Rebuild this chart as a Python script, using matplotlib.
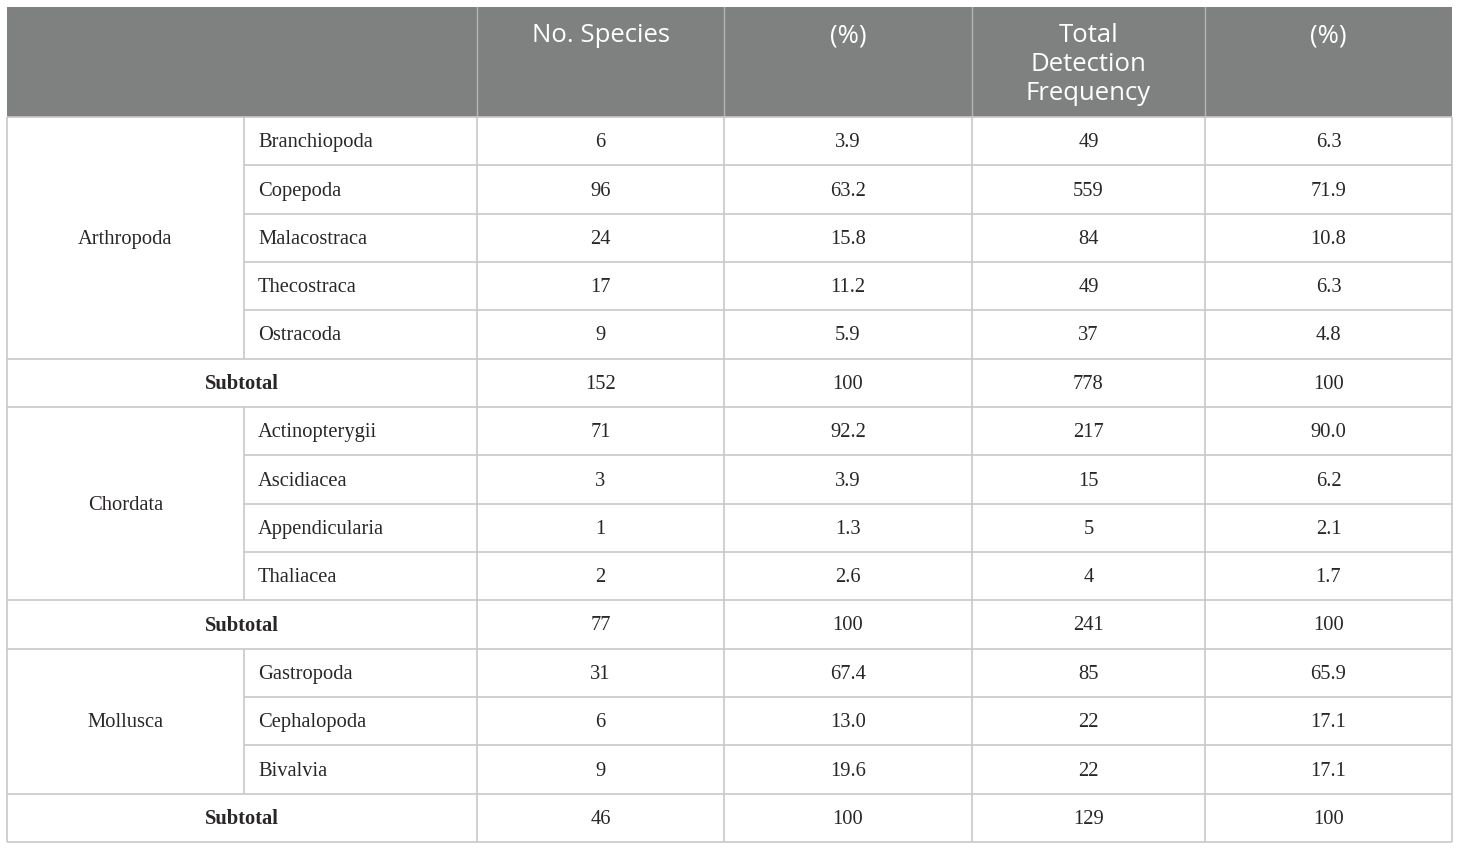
import matplotlib
matplotlib.use("Agg")
import matplotlib.pyplot as plt
from matplotlib.patches import Rectangle

# ---- data ----
headers = ["No. Species", "(%)", "Total\nDetection\nFrequency", "(%)"]
phyla = ["Arthropoda", "Chordata", "Mollusca"]
classes = [
    ["Branchiopoda", "Copepoda", "Malacostraca", "Thecostraca", "Ostracoda"],
    ["Actinopterygii", "Ascidiacea", "Appendicularia", "Thaliacea"],
    ["Gastropoda", "Cephalopoda", "Bivalvia"],
]
n_species = [[6, 96, 24, 17, 9], [71, 3, 1, 2], [31, 6, 9]]
pct_species = [["3.9", "63.2", "15.8", "11.2", "5.9"],
               ["92.2", "3.9", "1.3", "2.6"],
               ["67.4", "13.0", "19.6"]]
detect_freq = [[49, 559, 84, 49, 37], [217, 15, 5, 4], [85, 22, 22]]
pct_detect = [["6.3", "71.9", "10.8", "6.3", "4.8"],
              ["90.0", "6.2", "2.1", "1.7"],
              ["65.9", "17.1", "17.1"]]
subtotal_species = [152, 77, 46]
subtotal_pct_species = ["100", "100", "100"]
subtotal_detect = [778, 241, 129]
subtotal_pct_detect = ["100", "100", "100"]

# ---- layout ----
W, H = 1460, 850
col_edges = [7, 244, 477, 724, 972, 1205, 1452]
top, header_bottom, bottom = 7, 117, 842
n_rows = sum(len(c) + 1 for c in classes)
row_h = (bottom - header_bottom) / n_rows
dy = 1.5  # small vertical text offset

header_bg = "#7f8180"
grid_c = "#c8c8c8"
text_c = "#2a2627"
serif = ["Liberation Serif", "DejaVu Serif"]
sans = ["Open Sans", "DejaVu Sans"]
body_fs = 14.8
head_fs = 18.5

fig = plt.figure(figsize=(W / 100, H / 100), dpi=100)
ax = fig.add_axes([0, 0, 1, 1])
ax.set_xlim(0, W)
ax.set_ylim(H, 0)
ax.axis("off")

# header
ax.add_patch(Rectangle((col_edges[0], top), col_edges[-1] - col_edges[0],
                       header_bottom - top, facecolor=header_bg, edgecolor="none"))
for i, h in enumerate(headers):
    cx = (col_edges[i + 2] + col_edges[i + 3]) / 2
    ax.text(cx, 23, h, ha="center", va="top", color="white",
            fontsize=head_fs, family=sans, linespacing=1.22)
for x in col_edges[2:-1]:
    ax.plot([x, x], [top, header_bottom], color="#b4b6b5", lw=1)

def cline(x0, x1, y):
    ax.plot([x0, x1], [y, y], color=grid_c, lw=1.2, solid_capstyle="butt")

def vline(x, y0, y1):
    ax.plot([x, x], [y0, y1], color=grid_c, lw=1.2, solid_capstyle="butt")

y = header_bottom
cline(col_edges[0], col_edges[-1], y)
for g, ph in enumerate(phyla):
    g_top = y
    for k, cl in enumerate(classes[g]):
        yc = y + row_h / 2 + dy
        ax.text(col_edges[1] + 14, yc, cl, ha="left", va="center",
                fontsize=body_fs, family=serif, color=text_c)
        vals = [n_species[g][k], pct_species[g][k], detect_freq[g][k], pct_detect[g][k]]
        for i, v in enumerate(vals):
            cx = (col_edges[i + 2] + col_edges[i + 3]) / 2
            ax.text(cx, yc, str(v), ha="center", va="center",
                    fontsize=body_fs, family=serif, color=text_c)
        y += row_h
        if k < len(classes[g]) - 1:
            cline(col_edges[1], col_edges[-1], y)
        else:
            cline(col_edges[0], col_edges[-1], y)
    ax.text((col_edges[0] + col_edges[1]) / 2, (g_top + y) / 2 + dy, ph,
            ha="center", va="center", fontsize=body_fs, family=serif, color=text_c)
    vline(col_edges[1], g_top, y)
    for x in col_edges[2:-1]:
        vline(x, g_top, y + row_h)
    # subtotal
    yc = y + row_h / 2 + dy
    ax.text((col_edges[0] + col_edges[2]) / 2, yc, "Subtotal", ha="center",
            va="center", fontsize=body_fs, family=serif, fontweight="bold", color=text_c)
    vals = [subtotal_species[g], subtotal_pct_species[g], subtotal_detect[g],
            subtotal_pct_detect[g]]
    for i, v in enumerate(vals):
        cx = (col_edges[i + 2] + col_edges[i + 3]) / 2
        ax.text(cx, yc, str(v), ha="center", va="center",
                fontsize=body_fs, family=serif, color=text_c)
    y += row_h
    cline(col_edges[0], col_edges[-1], y)

vline(col_edges[0], header_bottom, bottom)
vline(col_edges[-1], header_bottom, bottom)

fig.savefig("out.png", dpi=100, facecolor="white")
